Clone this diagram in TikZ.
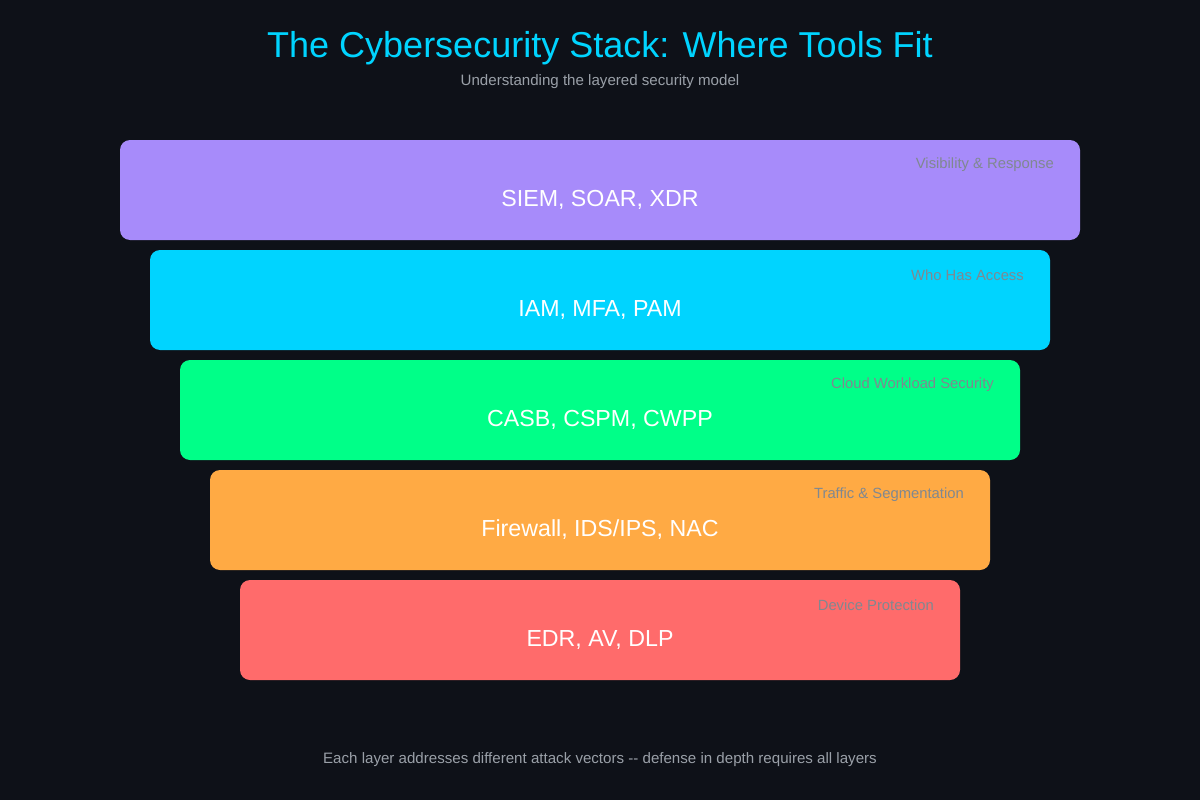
\documentclass[tikz,border=0pt]{standalone}
\usepackage{fontspec}
\setmainfont{Liberation Sans}
\definecolor{bg}{HTML}{0E1118}
\definecolor{ttl}{HTML}{00D4FF}
\definecolor{sub}{HTML}{9AA0A8}
\definecolor{small}{HTML}{808890}
\definecolor{cA}{HTML}{A78BFA}
\definecolor{cB}{HTML}{00D4FF}
\definecolor{cC}{HTML}{00FF88}
\definecolor{cD}{HTML}{FFAA44}
\definecolor{cE}{HTML}{FF6B6B}
\begin{document}
\begin{tikzpicture}[x=1pt,y=-1pt,
  layer/.style={rounded corners=10pt},
  main/.style={text=white,font=\fontsize{23.2}{27}\selectfont},
  tag/.style={text=small,font=\fontsize{14.8}{17}\selectfont,anchor=east,inner sep=0pt}]
\fill[bg] (0,0) rectangle (1200,800);
\useasboundingbox (0,0) rectangle (1200,800);
\node[text=ttl,font=\fontsize{36}{42}\selectfont] (title) at (600,48) {The Cybersecurity Stack: Where Tools Fit};
\node[text=sub,font=\fontsize{15.1}{18}\selectfont] (subtitle) at (600,82) {Understanding the layered security model};
\foreach \i/\c/\m/\t in {0/cA/{SIEM, SOAR, XDR}/{Visibility \& Response},1/cB/{IAM, MFA, PAM}/{Who Has Access},2/cC/{CASB, CSPM, CWPP}/{Cloud Workload Security},3/cD/{Firewall, IDS/IPS, NAC}/{Traffic \& Segmentation},4/cE/{EDR, AV, DLP}/{Device Protection}}{
  \fill[\c,layer] (120+30*\i,140+110*\i) rectangle (1080-30*\i,240+110*\i);
  \node[main] (m\i) at (600,200+110*\i) {\m};
  \node[tag] (t\i) at (1054-30*\i,165+110*\i) {\t};
}
\node[text=sub,font=\fontsize{15.1}{18}\selectfont] (foot) at (600,760) {Each layer addresses different attack vectors -{}- defense in depth requires all layers};
\end{tikzpicture}
\end{document}
